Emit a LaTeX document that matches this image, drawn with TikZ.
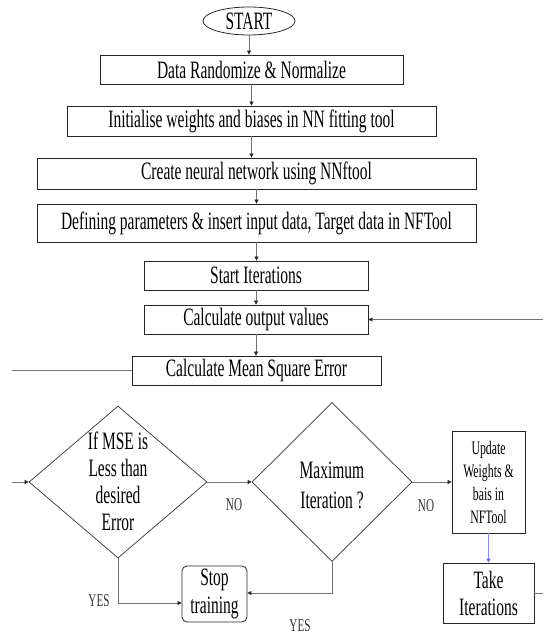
\documentclass[tikz,border=0pt]{standalone}
\usepackage{fontspec}
\setmainfont{Liberation Serif}[FakeStretch=0.62]
\usetikzlibrary{shapes.geometric,arrows.meta}
\begin{document}
\begin{tikzpicture}[x=1pt,y=-1pt,
  box/.style={draw=black!85, line width=0.8pt, inner sep=0pt, align=center,
              font=\fontsize{25}{27}\selectfont},
  dia/.style={diamond, draw=black!80, line width=0.7pt, inner sep=0pt},
  conn/.style={draw=black!55, line width=0.7pt},
  arr/.style={conn, -{Triangle[length=4pt,width=4pt,color=black!85]}},
  lbl/.style={font=\fontsize{18}{19}\selectfont, text=black!80},
  big/.style={font=\fontsize{25}{27}\selectfont, align=center, inner sep=0pt}
]
\useasboundingbox (0,0) rectangle (543,636);

\node[ellipse, draw=black!85, line width=0.8pt, minimum width=92pt, minimum height=28pt, inner sep=0pt,
      font=\fontsize{25}{27}\selectfont] (s) at (249,21) {START};
\node[box, minimum width=303pt, minimum height=29pt] (b1) at (251.5,69.5) {Data Randomize \& Normalize};
\node[box, minimum width=369pt, minimum height=30pt] (b2) at (251.5,121) {Initialise weights and biases in NN fitting tool};
\node[box, minimum width=439pt, minimum height=31pt] (b3) at (256.5,173.5) {Create neural network using NNftool};
\node[box, minimum width=439pt, minimum height=38pt] (b4) at (256.5,223) {Defining parameters \& insert input data, Target data in NFTool};
\node[box, minimum width=224pt, minimum height=29pt] (b5) at (256,275.5) {Start Iterations};
\node[box, minimum width=224pt, minimum height=29pt] (b6) at (256,319.5) {Calculate output values};
\node[box, minimum width=249pt, minimum height=29pt] (b7) at (256.5,370.5) {Calculate Mean Square Error};

\node[dia, minimum width=178pt, minimum height=152pt] (d1) at (118,482) {};
\node[big] (t1) at (118,481) {If MSE is\\Less than\\desired\\Error};
\node[dia, minimum width=160pt, minimum height=159pt] (d2) at (332,482) {};
\node[big, font=\fontsize{25}{30}\selectfont] (t2) at (332,485) {Maximum\\Iteration ?};

\node[box, minimum width=73pt, minimum height=102pt, font=\fontsize{19}{23}\selectfont] (up) at (488.5,482) {Update\\Weights \&\\bais in\\NFTool};
\node[box, minimum width=91pt, minimum height=60pt] (tk) at (488.5,593) {Take\\Iterations};
\node[box, rounded corners=5pt, minimum width=65pt, minimum height=56pt, font=\fontsize{25}{28}\selectfont] (st) at (214.5,594) {Stop\\training};

\node[lbl] (n1) at (234,505) {NO};
\node[lbl] (n2) at (426,506) {NO};
\node[lbl] (y1) at (99,601) {YES};
\node[lbl] (y2) at (300,626) {YES};

\coordinate (r6) at (543,319.5);
\coordinate (l7) at (12,370.5);
\coordinate (l1) at (12,482);
\coordinate (rt) at (543,593);

\draw[arr] (s.south) -- (s.south |- b1.north);
\draw[arr] (b1.south) -- (b2.north);
\draw[arr] (b2.south) -- (b2.south |- b3.north);
\draw[arr] (b3.south) -- (b4.north);
\draw[arr] (b4.south) -- (b4.south |- b5.north);
\draw[arr] (b5.south) -- (b6.north);
\draw[arr] (b6.south) -- (b6.south |- b7.north);
\draw[arr] (r6) -- (b6.east);
\draw[conn] (b7.west) -- (l7);
\draw[arr] (l1) -- (d1.west);
\draw[arr] (d1.east) -- (d2.west);
\draw[arr] (d2.east) -- (up.west);
\draw[conn, draw=blue!45, -{Triangle[length=4pt,width=4pt,color=blue!60]}] (up.south) -- (tk.north);
\draw[conn] (tk.east) -- (rt);
\draw[arr] (d1.south) |- (st.west |- 0,603);
\draw[arr] (d2.south) |- (st.east |- 0,593);
\end{tikzpicture}
\end{document}
